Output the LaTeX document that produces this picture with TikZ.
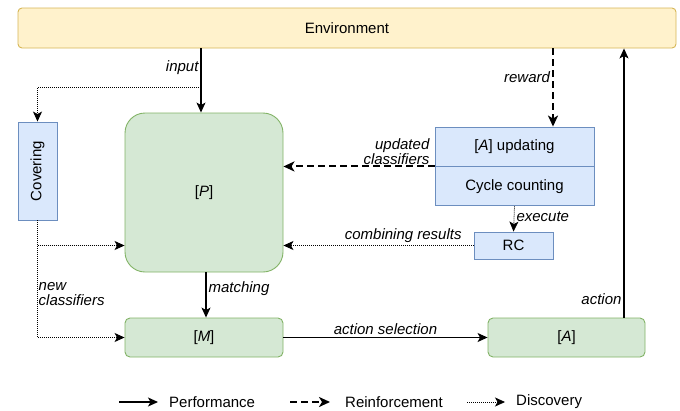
\documentclass[tikz,border=0pt]{standalone}
\usepackage{fontspec,graphicx}
\setmainfont{Liberation Sans}
\usetikzlibrary{arrows.meta,positioning}
\definecolor{envf}{HTML}{FFF2CC}
\definecolor{envd}{HTML}{D6B656}
\definecolor{setf}{HTML}{D5E8D4}
\definecolor{setd}{HTML}{82B366}
\definecolor{modf}{HTML}{DAE8FC}
\definecolor{modd}{HTML}{6C8EBF}

\begin{document}
\begin{tikzpicture}[
    x=1pt, y=-1pt,
    font=\fontsize{15}{16}\selectfont,
    env/.style={rectangle, rounded corners=4pt, fill=envf, draw=envd, line width=0.9pt, inner sep=0pt},
    cset/.style={rectangle, rounded corners=5pt, fill=setf, draw=setd, line width=0.9pt, inner sep=0pt},
    modbox/.style={rectangle, fill=modf, draw=modd, line width=0.9pt, inner sep=0pt},
    perf/.style={-{Stealth[length=10pt, width=9pt, inset=2.5pt]}, line width=1.1pt},
    reinf/.style={-{Stealth[length=11pt, width=10pt, inset=3pt]}, line width=2pt, dash pattern=on 7pt off 4pt},
    disc/.style={-{Stealth[length=10pt, width=9pt, inset=2.5pt]}, line width=0.8pt, dash pattern=on 1pt off 1pt},
    lbl/.style={font=\fontsize{15}{15}\selectfont\itshape, inner sep=2pt},
    lgd/.style={anchor=west, inner sep=0pt},
  ]
  \useasboundingbox (0,0) rectangle (680,410);

  % --- boxes
  \node[env, minimum width=658pt, minimum height=40pt] (env) at (347,28) {Environment};
  \node[modbox, minimum width=39pt, minimum height=98pt] (cover) at (37.5,171) {\rotatebox{90}{Covering}};
  \node[cset, rounded corners=20pt, minimum width=158pt, minimum height=159pt] (pset) at (204,192.5) {[\textit{P}]};
  \node[modbox, minimum width=159pt, minimum height=39pt] (upd) at (514.5,146.5) {[\textit{A}] updating};
  \node[modbox, minimum width=159pt, minimum height=39pt, below=0pt of upd] (cyc) {Cycle counting};
  \node[modbox, minimum width=79pt, minimum height=27pt] (rc) at (513.5,245.5) {RC};
  \node[cset, minimum width=158pt, minimum height=39pt] (mset) at (204,337.5) {[\textit{M}]};
  \node[cset, minimum width=157pt, minimum height=39pt] (aset) at (566.5,337.5) {[\textit{A}]};

  \coordinate (inp) at ([xshift=-3pt]pset.north);
  \coordinate (rwd) at ([xshift=38.5pt]upd.north);
  \coordinate (act) at ([xshift=57.5pt]aset.north);

  % --- performance
  \draw[perf] (env.south -| inp) -- node[lbl, left, pos=0.3] {input} (inp);
  \draw[perf] ([xshift=2pt]pset.south) -- node[lbl, right, pos=0.35] {matching} ([xshift=2pt]mset.north);
  \draw[perf] (mset.east) -- node[lbl, above] {action selection} (aset.west);
  \draw[perf] (act) -- node[lbl, left, pos=0.07] {action} (env.south -| act);

  % --- reinforcement
  \draw[reinf] (env.south -| rwd) -- node[lbl, left, pos=0.37] {reward} (rwd);
  \draw[reinf] (upd.south west) -- (pset.east |- upd.south west);
  \node[lbl, align=right, anchor=south east, inner sep=0pt] at ([xshift=-5pt, yshift=2pt]upd.south west) {updated\\classifiers};

  % --- discovery
  \draw[disc] ([yshift=25pt]inp) -| (cover.north);
  \draw[disc] (cyc.south) -- node[lbl, right, pos=0.4] {execute} (rc.north);
  \draw[disc] (rc.west) -- node[lbl, above, pos=0.37] {combining results} (pset.east |- rc.west);
  \draw[disc] (cover.south |- rc.west) -- (pset.west |- rc.west);
  \draw[disc] (cover.south) |- (mset.west);
  \node[lbl, align=left, anchor=north west, inner sep=0pt] at ([xshift=1pt, yshift=-62pt]cover.south) {new\\classifiers};

  % --- legend
  \coordinate (lp0) at (119,402); \coordinate (lp1) at (158,402);
  \coordinate (lr0) at (290,402); \coordinate (lr1) at (330,402);
  \coordinate (ld0) at (467,402); \coordinate (ld1) at (505,402);
  \draw[perf]  (lp0) -- (lp1);
  \draw[reinf] (lr0) -- (lr1);
  \draw[disc]  (ld0) -- (ld1);
  \node[lgd, right=11pt of lp1] (lpt) {Performance};
  \node[lgd, right=15pt of lr1] (lrt) {Reinforcement};
  \node[lgd, right=11pt of ld1] (ldt) {Discovery};

\end{tikzpicture}
\end{document}
